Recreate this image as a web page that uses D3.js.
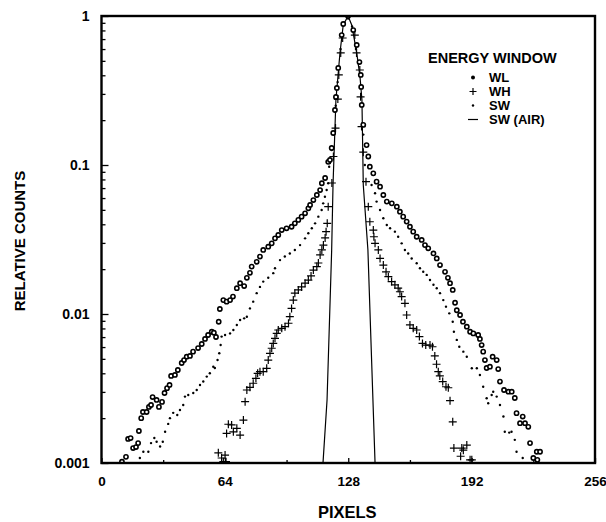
<!DOCTYPE html>
<html>
<head>
<meta charset="utf-8">
<script src="https://cdn.jsdelivr.net/npm/d3@7"></script>
<style>
body { margin: 0; background: #fff; }
text { font-family: "Liberation Sans", Arial, Helvetica, sans-serif; font-weight: bold; fill: #000; }
</style>
</head>
<body>
<div id="canvas"></div>
<script>
var canvasWidth = 606, canvasHeight = 522;
var plotLeft = 101.5, plotRight = 595, plotTop = 16, plotBottom = 463;

//axis ticks and labels
var xTicks = [0, 64, 128, 192, 256];
var xMinorTicks = [32, 96, 160, 224];
var yTicks = [1, 0.1, 0.01, 0.001];
var yTickLabels = ["1", "0.1", "0.01", "0.001"];
var legendTitle = "ENERGY WINDOW";
var legendLabels = ["WL", "WH", "SW", "SW (AIR)"];

//[pixel, relative counts]
var wl = [[10.6,0.00102],[12.7,0.00110],[13.8,0.00145],[15.1,0.00147],[16.4,0.00126],[17.9,0.00128],[19.0,0.00136],
  [19.4,0.00164],[20.6,0.00200],[21.5,0.00220],[23.4,0.00220],[24.6,0.00238],[25.7,0.00245],[26.5,0.00277],[28.6,0.00265],
  [29.8,0.00238],[31.4,0.00257],[32.7,0.00295],[34.0,0.00318],[35.3,0.00334],[36.1,0.00384],[38.1,0.00390],[39.6,0.00421],
  [41.6,0.00469],[42.8,0.00491],[44.2,0.00517],[45.9,0.00523],[47.5,0.00559],[50.1,0.00591],[52.0,0.00629],[53.7,0.00680],
  [55.3,0.00723],[57.2,0.00760],[58.3,0.00749],[59.4,0.00701],[60.8,0.00887],[61.4,0.0108],[63.2,0.0124],[64.9,0.0121],
  [66.7,0.0124],[68.2,0.0131],[70.2,0.0149],[71.9,0.0161],[74.0,0.0154],[75.4,0.0175],[77.0,0.0189],[77.9,0.0208],
  [80.5,0.0224],[82.2,0.0243],[83.9,0.0269],[86.5,0.0283],[88.3,0.0298],[90.0,0.0322],[91.7,0.0339],[93.5,0.0366],
  [96.0,0.0376],[98.6,0.0385],[100.3,0.0406],[102.1,0.0428],[103.8,0.0450],[105.6,0.0474],[107.3,0.0512],[108.2,0.0539],
  [109.9,0.0582],[111.7,0.0629],[113.4,0.0679],[114.3,0.0754],[116.0,0.0818],[117.6,0.105],[118.5,0.108],[119.4,0.130],
  [120.2,0.164],[121.1,0.234],[121.6,0.286],[122.1,0.329],[122.8,0.448],[124.6,0.745],[125.4,0.884],[127.9,1.0],
  [130.6,0.805],[132.4,0.639],[133.8,0.491],[134.5,0.402],[134.7,0.334],[135.0,0.253],[135.8,0.186],[137.5,0.136],
  [138.4,0.114],[139.2,0.0974],[141.0,0.0879],[142.7,0.0773],[144.5,0.0715],[146.2,0.0629],[148.0,0.0568],[150.6,0.0553],
  [153.2,0.0525],[154.8,0.0486],[156.5,0.0450],[158.3,0.0417],[160.0,0.0385],[161.7,0.0357],[163.5,0.0330],[166.1,0.0314],
  [167.8,0.0290],[169.5,0.0276],[172.2,0.0255],[173.9,0.0236],[175.6,0.0213],[178.2,0.0192],[179.7,0.0175],[180.8,0.0161],
  [182.2,0.0145],[183.4,0.0119],[184.3,0.0106],[186.0,0.00985],[187.5,0.00888],[189.5,0.00822],[191.2,0.00760],[192.9,0.00741],
  [195.4,0.00723],[196.3,0.00680],[197.2,0.00619],[198.0,0.00559],[198.9,0.00491],[199.8,0.00434],[201.5,0.00443],[202.9,0.00517],
  [205.0,0.00491],[205.8,0.00427],[206.7,0.00352],[208.8,0.00309],[211.1,0.00301],[212.8,0.00301],[214.4,0.00273],[215.3,0.00216],
  [217.1,0.00185],[218.5,0.00205],[219.7,0.00185],[221.4,0.00175],[222.3,0.00136],[224.0,0.00108],[225.8,0.00119],[226.1,0.00105],
  [227.5,0.00119]];

var wh = [[60.6,0.00117],[62.3,0.00108],[63.2,0.00102],[64.1,0.00113],[64.6,0.00102],[64.9,0.00158],[65.8,0.00182],[67.5,0.00180],
  [68.4,0.00162],[70.2,0.00171],[71.9,0.00154],[73.6,0.00194],[74.5,0.00258],[75.4,0.00309],[77.0,0.00322],[78.7,0.00343],
  [80.1,0.00370],[81.0,0.00400],[82.2,0.00410],[83.9,0.00410],[85.7,0.00432],[86.5,0.00491],[87.4,0.00545],[88.3,0.00589],
  [89.1,0.00635],[90.0,0.00687],[90.9,0.00741],[91.7,0.00781],[93.5,0.00802],[95.2,0.00822],[97.0,0.00867],[97.7,0.00959],
  [98.6,0.0109],[99.5,0.0124],[100.3,0.0138],[102.1,0.0145],[103.8,0.0152],[105.6,0.0161],[107.3,0.0169],[108.7,0.0180],
  [109.9,0.0197],[111.7,0.0208],[112.5,0.0220],[113.4,0.0249],[114.3,0.0269],[115.1,0.0290],[116.0,0.0324],[116.5,0.0357],
  [117.1,0.0406],[117.6,0.0525],[119.5,0.0757],[120.3,0.114],[121.4,0.177],[122.6,0.277],[123.1,0.402],[124.1,0.565],
  [125.1,0.712],[127.9,1.0],[131.4,0.745],[132.3,0.565],[134.0,0.434],[134.4,0.287],[134.9,0.181],[135.8,0.122],
  [137.2,0.0773],[138.4,0.0525],[139.2,0.0416],[141.0,0.0366],[141.3,0.0330],[141.9,0.0298],[143.6,0.0269],[144.5,0.0236],
  [146.2,0.0213],[147.6,0.0192],[148.8,0.0178],[150.5,0.0165],[152.2,0.0157],[153.9,0.0149],[154.8,0.0141],[155.7,0.0131],
  [157.4,0.0118],[158.3,0.00985],[160.0,0.00844],[161.7,0.00802],[163.5,0.00781],[164.9,0.00705],[166.5,0.00635],[168.2,0.00619],
  [170.4,0.00619],[171.7,0.00603],[172.9,0.00523],[173.8,0.00460],[174.7,0.00410],[175.5,0.00384],[177.0,0.00352],[178.7,0.00325],
  [179.9,0.00320],[180.8,0.00262],[182.2,0.00189],[182.8,0.00126],[186.3,0.00111],[186.9,0.00126],[187.7,0.00122],[189.5,0.00132],
  [191.2,0.00105],[192.1,0.00105]];

var sw = [[19.9,0.00108],[21.7,0.00119],[24.3,0.00119],[25.7,0.00136],[27.4,0.00147],[28.6,0.00139],[30.4,0.00129],[31.8,0.00139],
  [33.0,0.00162],[34.6,0.00183],[35.5,0.00200],[37.2,0.00217],[39.3,0.00210],[40.7,0.00227],[42.4,0.00245],[43.3,0.00279],
  [45.0,0.00286],[47.6,0.00295],[49.4,0.00309],[51.1,0.00334],[52.8,0.00352],[54.6,0.00380],[56.2,0.00400],[58.0,0.00443],
  [58.8,0.00434],[60.2,0.00491],[61.1,0.00545],[61.8,0.00619],[62.3,0.00705],[64.1,0.00723],[66.7,0.00741],[68.4,0.00781],
  [70.2,0.00844],[71.9,0.00912],[74.0,0.00935],[75.4,0.00959],[77.0,0.0109],[78.7,0.0121],[80.5,0.0138],[82.2,0.0152],
  [83.9,0.0165],[86.5,0.0175],[89.1,0.0188],[90.0,0.0203],[92.6,0.0230],[95.1,0.0243],[97.7,0.0255],[100.3,0.0269],
  [103.0,0.0290],[105.6,0.0322],[107.3,0.0348],[109.1,0.0376],[110.8,0.0406],[112.5,0.0450],[114.2,0.0499],[115.0,0.0553],
  [115.9,0.0612],[116.8,0.0679],[117.6,0.0754],[118.1,0.0974],[118.5,0.103],[119.4,0.126],[120.5,0.16],[121.5,0.25],
  [122.5,0.36],[124.0,0.6],[126.0,0.9],[127.9,1.0],[130.0,0.85],[132.0,0.6],[134.0,0.4],[135.0,0.25],[135.8,0.16],
  [136.6,0.100],[140.1,0.0734],[141.9,0.0646],[142.7,0.0568],[144.5,0.0499],[146.2,0.0439],[148.0,0.0396],[149.7,0.0376],
  [152.2,0.0357],[153.9,0.0330],[155.7,0.0298],[157.4,0.0269],[159.1,0.0255],[160.9,0.0236],[163.5,0.0219],[165.2,0.0203],
  [166.9,0.0192],[168.7,0.0183],[170.4,0.0169],[172.2,0.0157],[173.9,0.0149],[175.6,0.0138],[177.3,0.0124],[178.7,0.0112],
  [180.4,0.0101],[182.2,0.00887],[182.8,0.00760],[184.3,0.00670],[185.6,0.00603],[187.7,0.00559],[189.5,0.00517],[192.1,0.00432],
  [194.7,0.00432],[196.3,0.00390],[198.0,0.00325],[199.8,0.00272],[200.6,0.00252],[202.4,0.00286],[203.2,0.00301],[205.0,0.00279],
  [206.7,0.00245],[208.5,0.00205],[209.2,0.00162],[211.5,0.00160],[212.7,0.00162],[214.4,0.00143],[215.3,0.00119],[218.5,0.00108]];

var swAir = [[114.9,0.001],[117.0,0.00265],[119.4,0.0269],[120.1,0.0734],[121.6,0.273],[123.7,0.565],[125.4,0.87],[127.9,1.0],
  [129.8,0.87],[132.4,0.565],[134.1,0.39],[135.1,0.273],[135.8,0.0734],[138.2,0.0269],[141.9,0.001]];

var x = d3.scaleLinear().domain([0, 256]).range([plotLeft, plotRight]);
var y = d3.scaleLog().domain([0.001, 1]).range([plotBottom, plotTop]);

function resetSVGCanvas()
{
    var plotCanvas = d3.select("#canvas").append("svg");
    plotCanvas.attr("id", "plotCanvas")
              .attr("width", canvasWidth)
              .attr("height", canvasHeight)
              .attr("viewBox", "0 0 " + canvasWidth + " " + canvasHeight);
    plotCanvas.append("rect")
              .attr("width", canvasWidth)
              .attr("height", canvasHeight)
              .attr("fill", "white");
    plotCanvas.append("clipPath")
              .attr("id", "plotClip")
              .append("rect")
              .attr("x", plotLeft)
              .attr("y", plotTop)
              .attr("width", plotRight - plotLeft)
              .attr("height", plotBottom - plotTop);
    return plotCanvas;
}

function drawAxes(canvas)
{
    var minorY = y.ticks().filter(function(d) { return yTicks.indexOf(d) < 0; });

    canvas.append("g")
          .attr("transform", "translate(" + plotLeft + ",0)")
          .call(d3.axisLeft(y).tickValues(minorY).tickSize(-4).tickFormat(""))
          .call(function(g) { g.select(".domain").remove(); });

    canvas.append("g")
          .attr("class", "yaxis")
          .attr("transform", "translate(" + plotLeft + ",0)")
          .call(d3.axisLeft(y).tickValues(yTicks).tickSize(-7).tickPadding(12)
                  .tickFormat(function(d, i) { return yTickLabels[i]; }))
          .call(function(g) { g.select(".domain").remove(); });

    canvas.append("g")
          .attr("transform", "translate(0," + plotBottom + ")")
          .call(d3.axisBottom(x).tickValues(xMinorTicks).tickSize(-3).tickFormat(""))
          .call(function(g) { g.select(".domain").remove(); });

    canvas.append("g")
          .attr("class", "xaxis")
          .attr("transform", "translate(0," + plotBottom + ")")
          .call(d3.axisBottom(x).tickValues(xTicks).tickSize(-5).tickPadding(13))
          .call(function(g) { g.select(".domain").remove(); });

    canvas.selectAll(".tick line").attr("stroke", "black").attr("stroke-width", 1.3);
    canvas.selectAll(".tick text")
          .attr("font-family", null)
          .attr("font-size", 14)
          .attr("fill", "black");
    canvas.selectAll(".xaxis .tick text").attr("font-size", 13.5);

    canvas.append("rect")
          .attr("x", plotLeft)
          .attr("y", plotTop)
          .attr("width", plotRight - plotLeft)
          .attr("height", plotBottom - plotTop)
          .attr("fill", "none")
          .attr("stroke", "black")
          .attr("stroke-width", 2.4);

    canvas.append("text")
          .attr("x", (plotLeft + plotRight) / 2 - 1)
          .attr("y", 518)
          .attr("text-anchor", "middle")
          .attr("font-size", 16.5)
          .text("PIXELS");

    canvas.append("text")
          .attr("transform", "translate(25," + 241 + ") rotate(-90)")
          .attr("text-anchor", "middle")
          .attr("font-size", 15)
          .text("RELATIVE COUNTS");
}

function plusPath(size)
{
    return "M" + (-size) + ",0H" + size + "M0," + (-size) + "V" + size;
}

function drawSeries(canvas)
{
    var marks = canvas.append("g").attr("clip-path", "url(#plotClip)");

    marks.append("path")
         .datum(swAir)
         .attr("fill", "none")
         .attr("stroke", "black")
         .attr("stroke-width", 1.2)
         .attr("d", d3.line().x(function(d) { return x(d[0]); }).y(function(d) { return y(d[1]); }));

    marks.selectAll(".sw").data(sw).enter().append("circle")
         .attr("class", "sw")
         .attr("cx", function(d) { return x(d[0]); })
         .attr("cy", function(d) { return y(d[1]); })
         .attr("r", 1.2)
         .attr("fill", "black");

    marks.selectAll(".wh").data(wh).enter().append("path")
         .attr("class", "wh")
         .attr("transform", function(d) { return "translate(" + x(d[0]) + "," + y(d[1]) + ")"; })
         .attr("d", plusPath(4))
         .attr("stroke", "black")
         .attr("stroke-width", 1.2);

    marks.selectAll(".wl").data(wl).enter().append("circle")
         .attr("class", "wl")
         .attr("cx", function(d) { return x(d[0]); })
         .attr("cy", function(d) { return y(d[1]); })
         .attr("r", 2.1)
         .attr("fill", "white")
         .attr("stroke", "black")
         .attr("stroke-width", 1.6);
}

function drawLegend(canvas)
{
    var symbolX = 473, labelX = 489, rowY = [82, 96, 110, 124];

    canvas.append("text")
          .attr("x", 428)
          .attr("y", 63)
          .attr("font-size", 14.5)
          .text(legendTitle);

    legendLabels.forEach(function(label, i) {
        canvas.append("text")
              .attr("x", labelX)
              .attr("y", rowY[i])
              .attr("font-size", 13)
              .text(label);
    });

    canvas.append("circle").attr("cx", symbolX).attr("cy", rowY[0] - 4.5).attr("r", 2).attr("fill", "black");
    canvas.append("path")
          .attr("transform", "translate(" + symbolX + "," + (rowY[1] - 4.5) + ")")
          .attr("d", plusPath(3.5))
          .attr("stroke", "black")
          .attr("stroke-width", 1.2);
    canvas.append("circle").attr("cx", symbolX).attr("cy", rowY[2] - 4.5).attr("r", 1.2).attr("fill", "black");
    canvas.append("line")
          .attr("x1", symbolX - 5).attr("x2", symbolX + 5)
          .attr("y1", rowY[3] - 4.5).attr("y2", rowY[3] - 4.5)
          .attr("stroke", "black")
          .attr("stroke-width", 1.2);
}

var canvas = resetSVGCanvas();
drawSeries(canvas);
drawAxes(canvas);
drawLegend(canvas);
</script>
</body>
</html>
